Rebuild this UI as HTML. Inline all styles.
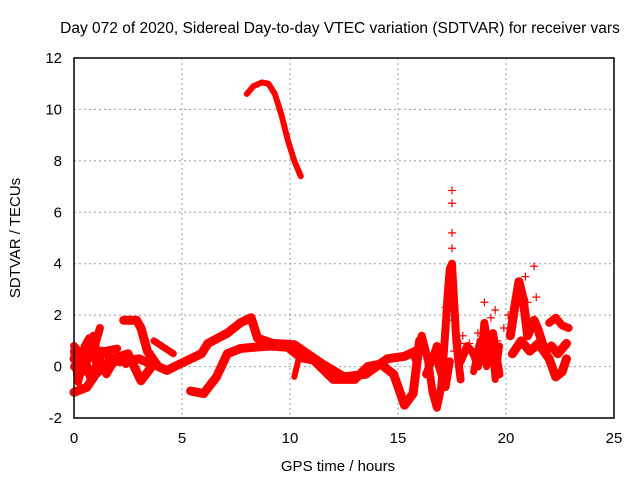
<!DOCTYPE html>
<html><head><meta charset="utf-8"><style>
body{margin:0;background:#fff;}
svg{display:block;font-family:"Liberation Sans",sans-serif;}
</style></head><body>
<svg id="chart" width="640" height="480">
<text x="340" y="33" font-size="15.5" text-anchor="middle" fill="#000">Day 072 of 2020, Sidereal Day-to-day VTEC variation (SDTVAR) for receiver vars</text>
<text x="338" y="471" font-size="15" text-anchor="middle">GPS time / hours</text>
<text transform="translate(20,238) rotate(-90)" font-size="15" text-anchor="middle">SDTVAR / TECUs</text>
<g id="grid"></g><g id="ticks"></g><g id="marks"></g>
<rect x="74" y="58" width="540" height="360" fill="none" stroke="#000" stroke-width="1.5"/>
</svg>
<script>
const xTicks=[0,5,10,15,20,25];
const yTicks=[-2,0,2,4,6,8,10,12];
const trackPeak=[[8.0,10.6],[8.3,10.9],[8.7,11.05],[9.0,11.0],[9.3,10.6],[9.6,9.8],[9.9,8.8],[10.2,8.0],[10.5,7.4]];
const trackMain=[[2.3,1.8],[2.9,1.8],[3.1,1.5],[3.4,0.6],[3.9,0],[4.3,-0.15],[4.9,0.1],[5.9,0.5],[6.2,0.9],[7.1,1.3],[7.7,1.7],[8.2,1.9],[8.5,1.1],[9.2,0.9],[10.2,0.85],[10.8,0.5],[11.5,0.1],[12.5,-0.4],[13.5,-0.3],[14.5,0.3],[15.3,0.4],[15.8,0.6]];
const trackLow=[[5.4,-0.95],[6.0,-1.05],[6.6,-0.4],[7.1,0.5],[7.7,0.7],[8.3,0.75],[9.1,0.8],[9.9,0.75],[10.5,0.35],[11.1,0.25],[12.0,-0.5],[13.0,-0.5],[13.6,0],[14.2,0.1],[14.8,-0.3],[15.3,-1.5],[15.7,-1.05],[16.0,1.0]];
const trackLeft1=[[0,0.8],[0.5,0.3],[1.0,0.9],[1.2,1.5]];
const trackLeft2=[[0,-1.0],[0.6,-0.8],[1.0,-0.3],[1.6,0.2],[2.3,0.2],[3.0,0.3],[3.6,0.1]];
const trackLeft3=[[0,0.3],[0.4,0.5],[0.8,-0.5],[1.3,0.6],[1.8,0.3],[2.5,0.5],[3.1,-0.55],[3.6,0]];
const trackLeft4=[[0,0.0],[0.3,-0.3],[0.6,0.2],[0.9,1.2],[1.1,0.4],[1.5,-0.3],[2.0,0.4],[2.4,0.1]];
const trackLeft5=[[0,0.6],[0.2,-0.6],[0.5,0.8],[0.7,1.1],[1.0,0.2],[1.4,0.6],[2.0,0.7]];
const trackSmall=[[3.7,1.0],[4.6,0.5]];
const trackDip=[[10.2,-0.4],[10.4,0.3]];
const trackR1=[[15.8,0.3],[16.1,1.2],[16.4,0.2],[16.6,-1.0],[16.8,-1.6],[17.0,-0.8],[17.1,0.3],[17.2,1.5],[17.3,2.8],[17.4,3.8],[17.5,4.0],[17.6,2.5],[17.7,1.0],[17.8,0.2],[17.9,-0.5]];
const trackR2=[[16.3,-0.3],[16.6,0.3],[16.8,0.8],[16.9,0],[17.2,-0.8],[17.4,0.2]];
const trackR3=[[17.9,0.2],[18.2,0.8],[18.5,0.5],[18.7,0],[18.9,0.8],[19.0,1.7],[19.2,0.5],[19.4,1.3],[19.6,0.2],[19.7,-0.3]];
const trackR3b=[[18.5,-0.2],[18.8,1.0],[19.1,0.0],[19.3,1.2],[19.5,-0.5],[19.7,0.8]];
const trackR4=[[20.2,1.2],[20.4,2.3],[20.6,3.3],[20.8,2.6],[21.0,1.2],[21.3,1.8],[21.5,1.4],[21.8,0.6],[22.1,0.8],[22.4,0.5],[22.8,0.9]];
const trackR5=[[20.3,0.5],[20.7,1.0],[21.1,0.6],[21.5,0.9],[22.0,0.3],[22.3,-0.4],[22.6,-0.2],[22.8,0.3]];
const trackR6=[[22.0,1.7],[22.3,1.9],[22.6,1.6],[22.9,1.5]];
const outliers=[[17.5,6.85],[17.5,6.35],[17.5,5.2],[17.5,4.6],[18.6,0.7],[21.3,3.9],[19,2.5],[17.7,1.1],[17.9,0.9],[21.4,2.7],[20.9,3.5],[20.5,2.8],[19.5,2.2],[19.9,1.5],[18.0,1.2],[17.6,0.6],[19.3,1.9],[17.3,1.8],[17.2,2.3],[18.3,0.9],[20.4,2.4],[21.0,2.5],[20.1,2.0],[19.6,1.0],[18.7,1.3]];
const NS="http://www.w3.org/2000/svg";
const X0=74,X1=614,Y0=418,Y1=58;
function sx(t){return X0+(t-0)/(25-0)*(X1-X0);}
function sy(v){return Y0-(v+2)/(12+2)*(Y0-Y1);}
function mk(tag,a,p){const e=document.createElementNS(NS,tag);for(const k in a)e.setAttribute(k,a[k]);p.appendChild(e);return e;}
const grid=document.getElementById('grid'),ticks=document.getElementById('ticks'),marks=document.getElementById('marks');
xTicks.forEach(t=>{
  if(t>0&&t<25){const g=mk('line',{x1:sx(t),x2:sx(t),y1:Y1,y2:Y0,stroke:'#999','stroke-dasharray':'2,3'},grid);
  
  }
  const l=mk('text',{x:sx(t),y:Y0+25,'font-size':15,'text-anchor':'middle'},ticks);l.textContent=t;
  
  
});
yTicks.forEach(v=>{
  if(v>-2&&v<12){const g=mk('line',{x1:X0,x2:X1,y1:sy(v),y2:sy(v),stroke:'#999','stroke-dasharray':'2,3'},grid);
  
  }
  const l=mk('text',{x:X0-12,y:sy(v)+5,'font-size':15,'text-anchor':'end'},ticks);l.textContent=v;
  
  
});
const tracks=[[trackPeak,6],[trackMain,9],[trackLow,9],[trackLeft1,8],[trackLeft2,9],[trackLeft3,9],[trackLeft4,8],[trackLeft5,8],[trackSmall,7],[trackDip,6],[trackR1,8],[trackR2,8],[trackR3,8],[trackR3b,7],[trackR4,9],[trackR5,9],[trackR6,8]];
tracks.forEach(([d,w])=>{
  const pl=mk('polyline',{points:d.map(p=>sx(p[0])+','+sy(p[1])).join(' '),fill:'none',stroke:'#f00','stroke-width':w,'stroke-linejoin':'round','stroke-linecap':'round'},marks);
  
  
});
outliers.forEach(p=>{
  const x=sx(p[0]),y=sy(p[1]);
  const pth=mk('path',{d:`M${x-4},${y}H${x+4}M${x},${y-4}V${y+4}`,stroke:'#f00','stroke-width':1.2},marks);
  
  
});
</script>
</body></html>
